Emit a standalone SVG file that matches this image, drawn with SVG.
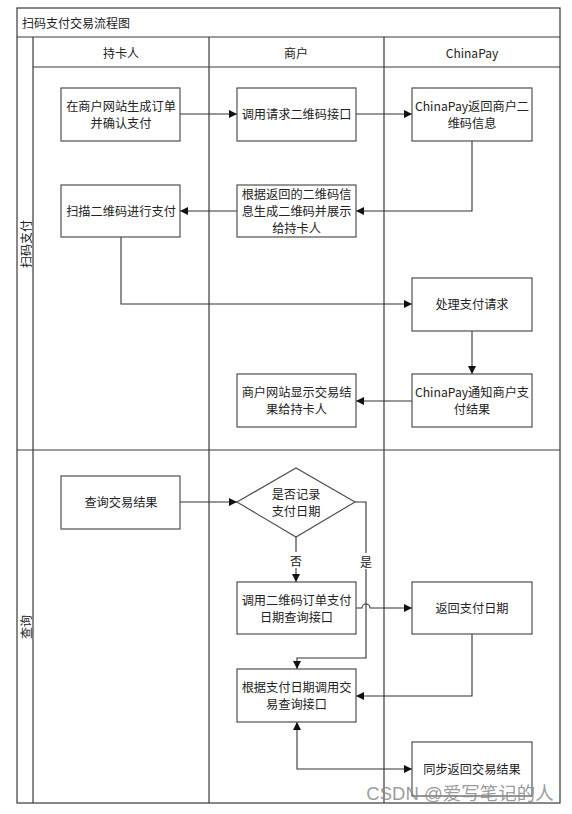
<svg xmlns="http://www.w3.org/2000/svg" width="572" height="814" viewBox="0 0 572 814">
<defs>
<style>
.frame{fill:none;stroke:#3a3a3a;stroke-width:1.2}
.node rect,.node polygon{fill:#fff;stroke:#505050;stroke-width:1.2}
.t{font-family:"Noto Sans CJK SC","Noto Sans",sans-serif;font-size:12.2px;fill:#222;text-anchor:middle;dominant-baseline:central}
.hd{font-family:"Noto Sans CJK SC","Noto Sans",sans-serif;font-size:12px;fill:#222;dominant-baseline:central}
.edge{fill:none;stroke:#333;stroke-width:1.1}
.lbl{font-family:"Noto Sans CJK SC",sans-serif;font-size:12px;fill:#222;text-anchor:middle;dominant-baseline:central}
</style>
<marker id="ah" viewBox="0 0 10 10" refX="10" refY="5" markerWidth="8" markerHeight="8" markerUnits="userSpaceOnUse" orient="auto-start-reverse">
<path d="M0,0 L10,5 L0,10 z" fill="#111"/>
</marker>
</defs>
<rect width="572" height="814" fill="#fff"/>
<g id="pool">
<rect class="frame" x="17" y="8" width="543" height="795"/>
<line class="frame" x1="17" y1="37" x2="560" y2="37"/>
<line class="frame" x1="33" y1="67" x2="560" y2="67"/>
<line class="frame" x1="33" y1="37" x2="33" y2="803"/>
<line class="frame" x1="209" y1="37" x2="209" y2="803"/>
<line class="frame" x1="384" y1="37" x2="384" y2="803"/>
<line class="frame" x1="17" y1="450" x2="560" y2="450"/>
<text class="hd" x="22" y="22">扫码支付交易流程图</text>
<text class="hd" x="121" y="52" text-anchor="middle">持卡人</text>
<text class="hd" x="296" y="52" text-anchor="middle">商户</text>
<text class="hd" x="472" y="52" text-anchor="middle" font-family="'Open Sans',sans-serif">ChinaPay</text>
<text class="hd" text-anchor="middle" transform="translate(25,244) rotate(-90)">扫码支付</text>
<text class="hd" text-anchor="middle" transform="translate(25,627) rotate(-90)">查询</text>
</g>
<g id="connectors">
<path class="edge" d="M180,114 H237" marker-end="url(#ah)"/>
<path class="edge" d="M356,114 H412" marker-end="url(#ah)"/>
<path class="edge" d="M472,141 V211 H356" marker-end="url(#ah)"/>
<path class="edge" d="M237,211 H180" marker-end="url(#ah)"/>
<path class="edge" d="M121,237 V304 H412" marker-end="url(#ah)"/>
<path class="edge" d="M472,331 V374" marker-end="url(#ah)"/>
<path class="edge" d="M412,401 H356" marker-end="url(#ah)"/>
<path class="edge" d="M180,502 H237" marker-end="url(#ah)"/>
<path class="edge" d="M296,537 V582" marker-end="url(#ah)"/>
<path class="edge" d="M355,502 H366 V658 H297 V669" marker-end="url(#ah)"/>
<path class="edge" d="M356,608 H362 A4,4 0 0 1 370,608 H412" marker-end="url(#ah)"/>
<path class="edge" d="M472,634 V696 H356" marker-end="url(#ah)"/>
<path class="edge" d="M297,722 V769 H412" marker-start="url(#ah)" marker-end="url(#ah)"/>
<rect x="289" y="552" width="14" height="16" fill="#fff"/>
<text class="lbl" x="296" y="560">否</text>
<rect x="359" y="553" width="14" height="16" fill="#fff"/>
<text class="lbl" x="366" y="561">是</text>
</g>
<g id="n1" class="node"><rect x="61" y="88" width="119" height="53"/><text class="t" x="121" y="106">在商户网站生成订单</text><text class="t" x="121" y="123">并确认支付</text></g>
<g id="n2" class="node"><rect x="237" y="88" width="119" height="53"/><text class="t" x="296.5" y="114">调用请求二维码接口</text></g>
<g id="n3" class="node"><rect x="412" y="88" width="120" height="53"/><text class="t" x="472" y="106">ChinaPay返回商户二</text><text class="t" x="472" y="123">维码信息</text></g>
<g id="n4" class="node"><rect x="61" y="185" width="119" height="52"/><text class="t" x="121" y="211">扫描二维码进行支付</text></g>
<g id="n5" class="node"><rect x="237" y="185" width="119" height="52"/><text class="t" x="296.5" y="194">根据返回的二维码信</text><text class="t" x="296.5" y="211">息生成二维码并展示</text><text class="t" x="296.5" y="228">给持卡人</text></g>
<g id="n6" class="node"><rect x="412" y="278" width="120" height="53"/><text class="t" x="472" y="304">处理支付请求</text></g>
<g id="n7" class="node"><rect x="412" y="374" width="120" height="53"/><text class="t" x="472" y="392">ChinaPay通知商户支</text><text class="t" x="472" y="409">付结果</text></g>
<g id="n8" class="node"><rect x="237" y="374" width="119" height="53"/><text class="t" x="296.5" y="392">商户网站显示交易结</text><text class="t" x="296.5" y="409">果给持卡人</text></g>
<g id="n9" class="node"><rect x="61" y="476" width="119" height="53"/><text class="t" x="121" y="502">查询交易结果</text></g>
<g id="n10" class="node"><polygon points="237,502 296,468 355,502 296,537"/><text class="t" x="296" y="494">是否记录</text><text class="t" x="296" y="511">支付日期</text></g>
<g id="n11" class="node"><rect x="237" y="582" width="119" height="52"/><text class="t" x="296.5" y="599.5">调用二维码订单支付</text><text class="t" x="296.5" y="616.5">日期查询接口</text></g>
<g id="n12" class="node"><rect x="412" y="582" width="120" height="52"/><text class="t" x="472" y="608">返回支付日期</text></g>
<g id="n13" class="node"><rect x="237" y="669" width="119" height="53"/><text class="t" x="296.5" y="687">根据支付日期调用交</text><text class="t" x="296.5" y="704">易查询接口</text></g>
<g id="n14" class="node"><rect x="412" y="742" width="120" height="54"/><text class="t" x="472" y="769">同步返回交易结果</text></g>
<text x="460" y="800" text-anchor="middle" font-family="'Liberation Sans','Noto Sans CJK SC',sans-serif" font-size="18.5" fill="#8a8a8a" fill-opacity="0.85">CSDN @爱写笔记的人</text>
</svg>
